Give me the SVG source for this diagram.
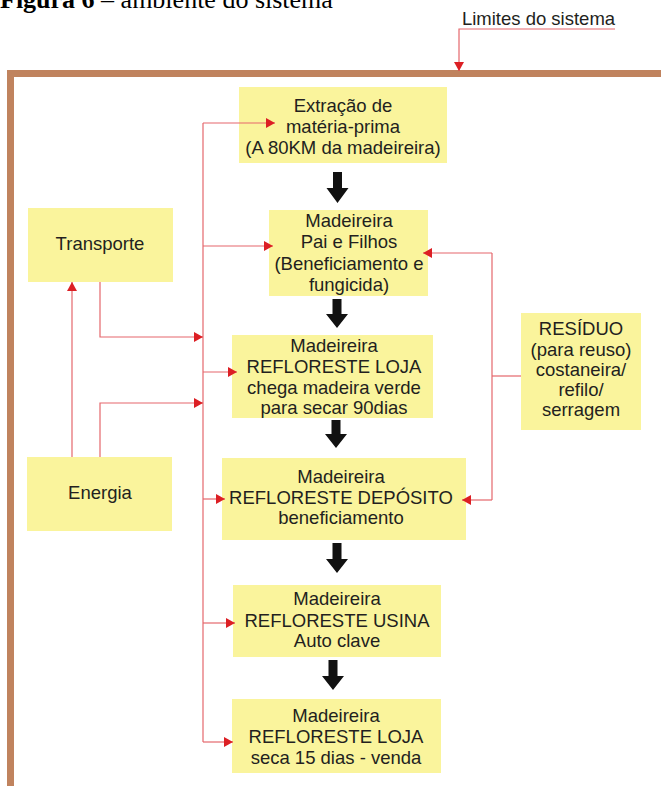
<svg xmlns="http://www.w3.org/2000/svg" width="661" height="786" viewBox="0 0 661 786">
<style>
.box{fill:#faf49c;}
.t{font-family:"Liberation Sans",Arial,sans-serif;font-size:18.5px;fill:#231f20;text-anchor:middle;}
.red{fill:none;stroke:#e5676c;stroke-width:1.2;}
.blk{fill:#111;}
</style>
<defs>
<marker id="ah" markerUnits="userSpaceOnUse" markerWidth="10" markerHeight="10" viewBox="0 0 9 10" refX="9" refY="5" orient="auto">
<path d="M0,0 L9,5 L0,10 Z" fill="#dc1f24"/>
</marker>
</defs>
<rect width="661" height="786" fill="#fff"/>
<text x="0" y="8" font-family="'Liberation Serif','Times New Roman',serif" font-size="26" fill="#000"><tspan font-weight="bold">Figura 6</tspan> – ambiente do sistema</text>
<g id="limites">
<text x="538.5" y="25" class="t">Limites do sistema</text>
</g>
<g id="border">
<path d="M10.5,786 V73.5 H661" fill="none" stroke="#c0835e" stroke-width="7"/>
</g>
<g id="extracao"><rect class="box" x="239" y="87" width="208" height="76"/>
<text class="t" x="343" y="112">Extração de</text><text class="t" x="343" y="133">matéria-prima</text><text class="t" x="343" y="154">(A 80KM da madeireira)</text></g>
<g id="pai"><rect class="box" x="269" y="210" width="159" height="86"/>
<text class="t" x="349" y="227">Madeireira</text><text class="t" x="349" y="248">Pai e Filhos</text><text class="t" x="349" y="269.5">(Beneficiamento e</text><text class="t" x="349" y="291">fungicida)</text></g>
<g id="loja1"><rect class="box" x="232" y="335" width="201" height="83"/>
<text class="t" x="334" y="352">Madeireira</text><text class="t" x="334" y="373">REFLORESTE LOJA</text><text class="t" x="334" y="394">chega madeira verde</text><text class="t" x="334" y="414">para secar 90dias</text></g>
<g id="deposito"><rect class="box" x="222" y="458" width="244" height="82"/>
<text class="t" x="341" y="483">Madeireira</text><text class="t" x="341" y="504">REFLORESTE DEPÓSITO</text><text class="t" x="341" y="524">beneficiamento</text></g>
<g id="usina"><rect class="box" x="233" y="585" width="208" height="72"/>
<text class="t" x="337" y="605">Madeireira</text><text class="t" x="337" y="627">REFLORESTE USINA</text><text class="t" x="337" y="647">Auto clave</text></g>
<g id="loja2"><rect class="box" x="232" y="699" width="209" height="74"/>
<text class="t" x="336" y="722">Madeireira</text><text class="t" x="336" y="743">REFLORESTE LOJA</text><text class="t" x="336" y="764">seca 15 dias - venda</text></g>
<g id="transporte"><rect class="box" x="28" y="208" width="145" height="74"/>
<text class="t" x="100" y="250">Transporte</text></g>
<g id="energia"><rect class="box" x="27" y="457" width="145" height="74"/>
<text class="t" x="100" y="499">Energia</text></g>
<g id="residuo"><rect class="box" x="521" y="313" width="120" height="117"/>
<text class="t" x="581" y="335">RESÍDUO</text><text class="t" x="581" y="355.5">(para reuso)</text><text class="t" x="581" y="376">costaneira/</text><text class="t" x="581" y="396">refilo/</text><text class="t" x="581" y="416">serragem</text></g>
<g id="connectors">
<path class="red" d="M615,29 H459 V71" marker-end="url(#ah)"/>
<path class="red" d="M203,123 V742"/>
<path class="red" d="M203,123 H275" marker-end="url(#ah)"/>
<path class="red" d="M203,246 H273" marker-end="url(#ah)"/>
<path class="red" d="M203,372 H237" marker-end="url(#ah)"/>
<path class="red" d="M203,499 H225" marker-end="url(#ah)"/>
<path class="red" d="M203,623 H235" marker-end="url(#ah)"/>
<path class="red" d="M203,742 H233" marker-end="url(#ah)"/>
<path class="red" d="M100,282 V337 H203" marker-end="url(#ah)"/>
<path class="red" d="M100,457 V403 H203" marker-end="url(#ah)"/>
<path class="red" d="M72,457 V282" marker-end="url(#ah)"/>
<path class="red" d="M521,376 H492"/>
<path class="red" d="M492,253 V500"/>
<path class="red" d="M492,253 H423" marker-end="url(#ah)"/>
<path class="red" d="M492,500 H462" marker-end="url(#ah)"/>
<path class="blk" d="M333,172 h9 v16 h6.5 l-11,15 l-11,-15 h6.5 z"/>
<path class="blk" d="M332.5,299 h9 v15 h6.5 l-11,14 l-11,-14 h6.5 z"/>
<path class="blk" d="M331.5,420 h9 v14 h6.5 l-11,14 l-11,-14 h6.5 z"/>
<path class="blk" d="M332.5,543 h9 v16 h6.5 l-11,14 l-11,-14 h6.5 z"/>
<path class="blk" d="M328.5,660 h9 v16 h6.5 l-11,14 l-11,-14 h6.5 z"/>
</g>
</svg>
